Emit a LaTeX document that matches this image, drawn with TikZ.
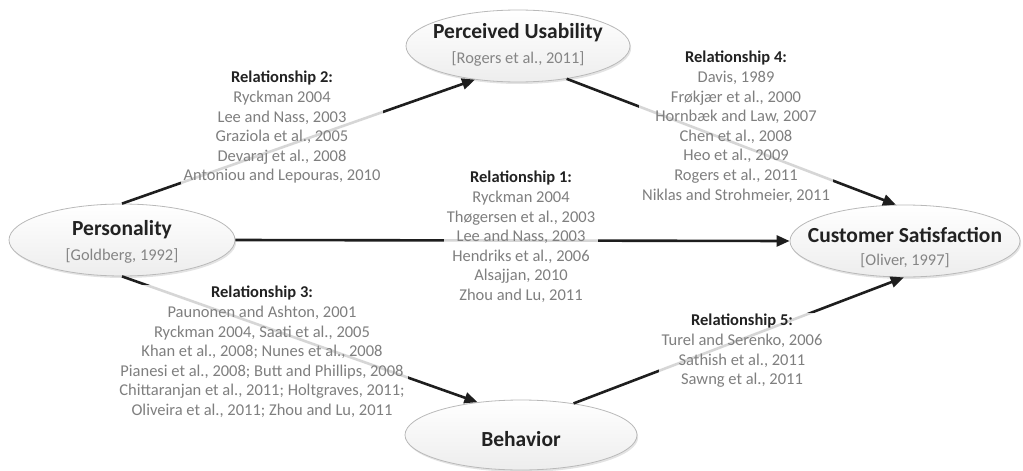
\documentclass[tikz,border=0pt]{standalone}
\usepackage{fontspec}
\setmainfont{Carlito}
\usetikzlibrary{arrows.meta,shapes.geometric,shadows}
\definecolor{refgray}{HTML}{7F7F7F}
\definecolor{headc}{HTML}{222222}
\definecolor{linec}{HTML}{1E1E1E}
\tikzset{
  concept/.style={ellipse, inner sep=0pt, draw=gray!55, line width=0.8pt,
    top color=white, bottom color=gray!14,
    drop shadow={opacity=0.22, shadow xshift=1.2pt, shadow yshift=-2pt}},
  titletext/.style={font=\fontsize{21.5}{25}\selectfont\bfseries, text=headc, inner sep=0pt},
  citetext/.style={font=\fontsize{16.4}{19}\selectfont, text=refgray!95, inner sep=0pt},
  rellabel/.style={align=center, anchor=north, text=refgray,
    font=\fontsize{16.5}{19.6}\selectfont, fill=white, fill opacity=0.82, text opacity=1,
    inner xsep=3pt, inner ysep=1pt},
  conn/.style={draw=linec, line width=2.6pt, -{Triangle[length=13pt,width=11pt]}},
}
\newcommand{\relhead}[1]{{\bfseries\color{headc}#1}}
\begin{document}
\begin{tikzpicture}[x=1pt,y=-1pt]
\useasboundingbox (0,0) rectangle (1023,471);
% concepts
\node[concept, minimum width=226pt, minimum height=72pt] (pe) at (122,240) {};
\node[concept, minimum width=224pt, minimum height=72pt] (pu) at (518,46) {};
\node[concept, minimum width=230pt, minimum height=72pt] (cs) at (905,241) {};
\node[concept, minimum width=232pt, minimum height=70pt] (be) at (521,435) {};
% connectors
\draw[conn] (pe.90) -- (pu.218);
\draw[conn] (pu.326) -- (cs.104);
\draw[conn] (pe.east) -- (cs.west);
\draw[conn] (pe.270) -- (be.143);
\draw[conn] (be.31) -- (cs.268);
% titles
\node[titletext] (pet) at (122,230) {Personality};
\node[citetext] (pec) at (122,256) {[Goldberg, 1992]};
\node[titletext] (put) at (518,33) {Perceived Usability};
\node[citetext] (puc) at (518,59) {[Rogers et al., 2011]};
\node[titletext] (cst) at (905,235) {Customer Satisfaction};
\node[citetext] (csc) at (905,261) {[Oliver, 1997]};
\node[titletext] (bet) at (521,439) {Behavior};
% relationship labels
\node[rellabel] (r2) at (282,70) {\relhead{Relationship 2:}\\Ryckman 2004\\Lee and Nass, 2003\\Graziola et al., 2005\\Devaraj et al., 2008\\Antoniou and Lepouras, 2010};
\node[rellabel] (r4) at (736,50) {\relhead{Relationship 4:}\\Davis, 1989\\Frøkjær et al., 2000\\Hornbæk and Law, 2007\\Chen et al., 2008\\Heo et al., 2009\\Rogers et al., 2011\\Niklas and Strohmeier, 2011};
\node[rellabel] (r1) at (521,170) {\relhead{Relationship 1:}\\Ryckman 2004\\Thøgersen et al., 2003\\Lee and Nass, 2003\\Hendriks et al., 2006\\Alsajjan, 2010\\Zhou and Lu, 2011};
\node[rellabel] (r3) at (262,285) {\relhead{Relationship 3:}\\Paunonen and Ashton, 2001\\Ryckman 2004, Saati et al., 2005\\Khan et al., 2008; Nunes et al., 2008\\Pianesi et al., 2008; Butt and Phillips, 2008\\Chittaranjan et al., 2011; Holtgraves, 2011;\\Oliveira et al., 2011; Zhou and Lu, 2011};
\node[rellabel] (r5) at (742,313) {\relhead{Relationship 5:}\\Turel and Serenko, 2006\\Sathish et al., 2011\\Sawng et al., 2011};
\end{tikzpicture}
\end{document}
